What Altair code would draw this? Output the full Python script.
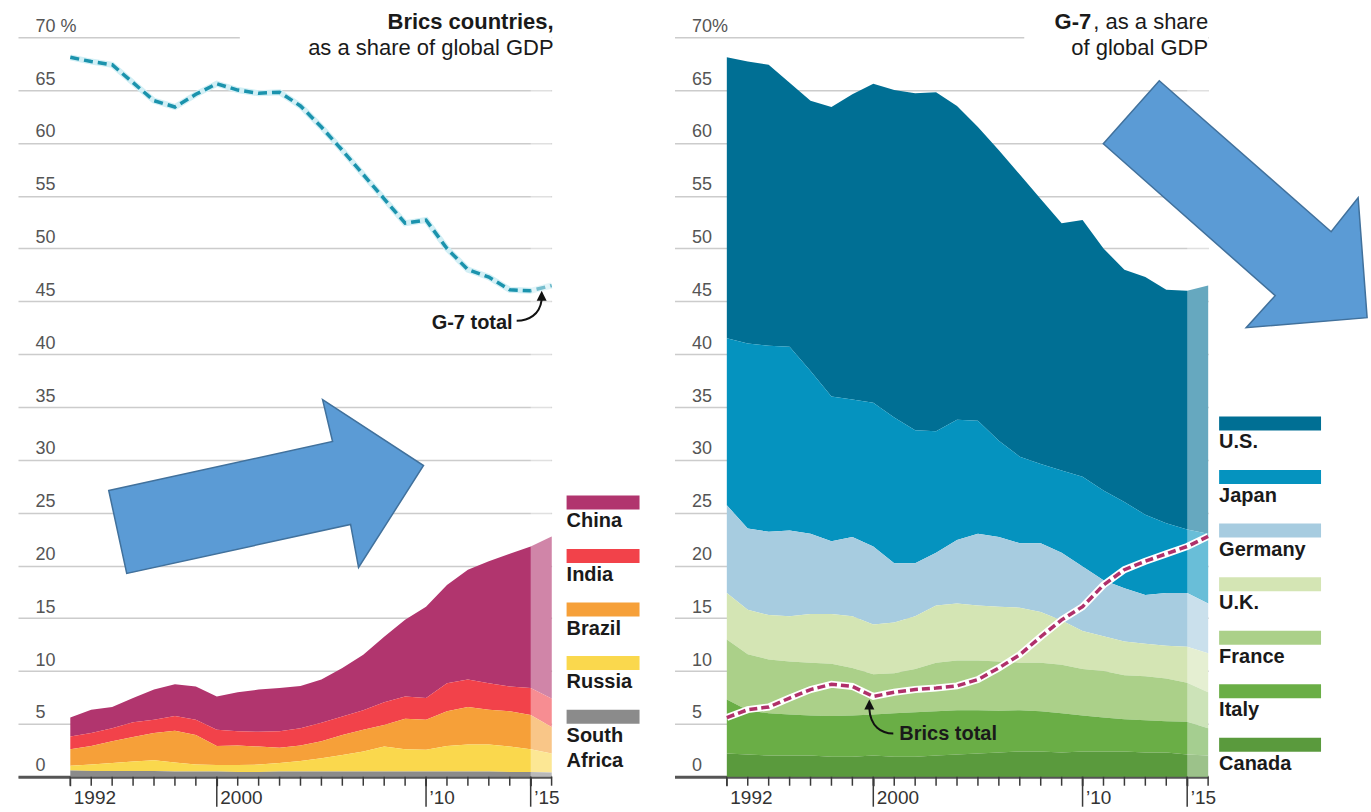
import altair as alt
import pandas as pd

# ---------------- data ----------------
years = list(range(1993, 2017))

brics_names = ["China", "India", "Brazil", "Russia", "South Africa"]
brics_legend_labels = ["China", "India", "Brazil", "Russia", "South\nAfrica"]
brics_colors = ["#b1356e", "#f2424a", "#f6a039", "#fad84d", "#8b8b8b"]

china = [1.8, 2.2, 2.0, 2.3, 2.85, 3.0, 3.15, 3.15, 3.7, 4.0, 4.1, 4.0,
         4.1, 4.6, 5.25, 6.2, 7.25, 8.65, 9.3, 10.4, 11.55, 12.55, 13.4, 15.35]
india = [1.2, 1.25, 1.25, 1.4, 1.25, 1.4, 1.45, 1.55, 1.35, 1.4, 1.55, 1.65,
         1.75, 1.75, 1.85, 2.15, 2.1, 2.05, 2.65, 2.6, 2.5, 2.35, 2.55, 2.7]
brazil = [1.55, 1.75, 2.05, 2.3, 2.6, 3.0, 2.8, 1.8, 1.85, 1.7, 1.45, 1.45,
          1.6, 1.9, 2.05, 2.05, 2.9, 2.85, 3.3, 3.55, 3.3, 3.35, 3.25, 2.5]
russia = [0.45, 0.6, 0.75, 0.9, 1.0, 0.85, 0.65, 0.6, 0.65, 0.7, 0.8, 1.0,
          1.25, 1.55, 1.9, 2.35, 2.1, 2.05, 2.4, 2.55, 2.55, 2.4, 2.15, 1.8]
south_africa = [0.6, 0.55, 0.55, 0.55, 0.55, 0.5, 0.5, 0.5, 0.45, 0.45, 0.5, 0.5,
                0.5, 0.5, 0.5, 0.5, 0.5, 0.5, 0.5, 0.5, 0.5, 0.45, 0.45, 0.4]

g7_names = ["U.S.", "Japan", "Germany", "U.K.", "France", "Italy", "Canada"]
g7_colors = ["#006f94", "#0593bf", "#a7cce0", "#d4e5b4", "#abd089", "#6aae46", "#5a9a3d"]

us = [26.6, 26.7, 26.6, 25.0, 25.6, 27.4, 28.9, 30.2, 31.0, 31.9, 32.1, 29.7,
      27.8, 27.5, 26.7, 25.1, 23.4, 24.3, 22.9, 22.0, 22.5, 22.1, 22.6, 23.5]
japan = [15.8, 17.5, 17.6, 17.4, 15.4, 13.7, 13.0, 13.6, 13.8, 12.6, 11.5, 11.4,
         10.7, 9.1, 8.2, 7.5, 7.8, 8.5, 8.5, 8.15, 7.6, 6.6, 6.0, 6.6]
germany = [8.3, 7.7, 7.9, 8.1, 7.6, 6.9, 7.5, 7.4, 5.6, 5.0, 5.0, 6.0,
           6.8, 6.6, 6.1, 6.5, 6.4, 6.1, 5.3, 5.05, 4.6, 5.0, 5.1, 4.7]
uk = [4.4, 4.2, 4.2, 4.3, 4.6, 4.7, 4.9, 4.7, 4.8, 5.0, 5.4, 5.4,
      5.2, 5.2, 5.2, 4.8, 4.2, 3.6, 3.3, 3.2, 3.1, 3.1, 3.4, 3.7]
france = [5.7, 5.3, 5.1, 5.0, 5.0, 4.95, 4.5, 3.8, 3.8, 4.1, 4.6, 4.7,
          4.7, 4.65, 4.5, 4.6, 4.6, 4.4, 4.4, 4.15, 4.15, 4.05, 3.7, 3.4]
italy = [5.1, 4.2, 4.0, 3.9, 3.8, 3.85, 3.9, 3.9, 4.1, 4.2, 4.2, 4.2,
         4.1, 3.95, 3.9, 3.8, 3.7, 3.4, 3.2, 3.05, 3.05, 2.95, 3.1, 2.6]
canada = [2.2, 2.1, 2.0, 2.0, 2.0, 1.9, 1.9, 2.0, 1.9, 1.9, 2.0, 2.1,
          2.2, 2.3, 2.4, 2.4, 2.3, 2.4, 2.4, 2.4, 2.3, 2.3, 2.1, 2.0]

forecast_start = [2015]
forecast_end = [2016]

y_ticks = list(range(0, 75, 5))
x_label_years = [1993, 2000, 2010, 2015]
x_label_texts = ["1992", "2000", "\u201910", "\u201915"]
major_ticks = [2000, 2010, 2015]

brics_title = ["Brics countries,", "as a share of global GDP"]
g7_title = ["G-7", ", as a share", "of global GDP"]
g7_note, g7_note_year = "G-7 total", 2015
brics_note, brics_note_year = "Brics total", 2000

# ---------------- tables ----------------
def long_df(names, series):
    rows = []
    n = len(names)
    for i, (name, vals) in enumerate(zip(names, series)):
        for yr, v in zip(years, vals):
            rows.append({"year": yr, "country": name, "share": v, "rank": n - 1 - i})
    return pd.DataFrame(rows)

brics_df = long_df(brics_names, [china, india, brazil, russia, south_africa])
g7_df = long_df(g7_names, [us, japan, germany, uk, france, italy, canada])
brics_total = brics_df.groupby("year", as_index=False)["share"].sum()
g7_total = g7_df.groupby("year", as_index=False)["share"].sum()
forecast_df = pd.DataFrame({"start": forecast_start, "end": forecast_end})
major_df = pd.DataFrame({"year": major_ticks})
minor_df = pd.DataFrame({"year": years})

# ---------------- styling ----------------
FONT = "Liberation Sans"
W, H = 534, 740
xs = alt.Scale(domain=[1990.5, 2016], nice=False, zero=False)
ys = alt.Scale(domain=[0, 70], nice=False)

label_expr = " : ".join(f"datum.value == {k} ? '{v}'" for k, v in zip(x_label_years, x_label_texts)) + " : ''"

x_axis = alt.Axis(
    values=x_label_years, labelExpr=label_expr, labelAlign="left", labelBaseline="top",
    labelFlush=False, labelOverlap=False, labelOffset=3, labelPadding=3,
    labelFont=FONT, labelFontSize=19, labelColor="#333333",
    tickSize=9, tickColor="#3a3a3a", tickWidth=1.5,
    domainColor="#555555", domainWidth=3, grid=False, title=None,
)


def y_axis(top_label):
    return alt.Axis(
        values=y_ticks, grid=True, gridColor="#cccccc", gridWidth=1.5,
        domain=False, ticks=False, tickSize=0,
        labelAlign="left", labelBaseline="alphabetic", labelPadding=-17, labelOffset=-6,
        labelFont=FONT, labelFontSize=18, labelColor="#555555",
        labelExpr=f"datum.value == 70 ? '{top_label}' : datum.label", title=None,
    )


one = pd.DataFrame({"a": [0]})


def text_at(txt, x, y, align="right", bold=False, size=22):
    return alt.Chart(one).mark_text(
        text=txt, align=align, baseline="middle", font=FONT, fontSize=size,
        fontWeight="bold" if bold else "normal", color="#1a1a1a",
    ).encode(x=alt.value(x), y=alt.value(y))


def grid_cut(x_from):
    return alt.Chart(pd.DataFrame({"v": [70]})).mark_rule(color="white", strokeWidth=4).encode(
        y=alt.Y("v:Q", scale=ys), x=alt.value(x_from), x2=alt.value(W))


def tick_marks():
    minor = alt.Chart(minor_df).mark_rule(color="#3a3a3a", strokeWidth=1.5).encode(
        x=alt.X("year:Q", scale=xs), y=alt.value(H), y2=alt.value(H + 9))
    major = alt.Chart(major_df).mark_rule(color="#3a3a3a", strokeWidth=1.5).encode(
        x=alt.X("year:Q", scale=xs), y=alt.value(H), y2=alt.value(H + 30))
    return [minor, major]


def overlay():
    return alt.Chart(forecast_df).mark_rect(color="white", opacity=0.4).encode(
        x=alt.X("start:Q", scale=xs), x2="end:Q", y=alt.datum(0), y2=alt.datum(70))


def big_arrow(year, value, path):
    return alt.Chart(pd.DataFrame({"year": [year], "value": [value]})).mark_point(
        shape=path, size=4, filled=True, fill="#5b9bd5", stroke="#41719c",
        strokeWidth=1.5, opacity=1,
    ).encode(x=alt.X("year:Q", scale=xs), y=alt.Y("value:Q", scale=ys))


def pointer(total_df, year, curve, head, note, dx, dy, align):
    base = alt.Chart(total_df).transform_filter(f"datum.year == {year}").encode(
        x=alt.X("year:Q", scale=xs), y=alt.Y("share:Q", scale=ys))
    c = base.mark_point(shape=curve, size=4, filled=False, stroke="#111111",
                        strokeWidth=2, opacity=1)
    h = base.mark_point(shape=head, size=4, filled=True, fill="#111111",
                        strokeWidth=0, opacity=1)
    t = base.mark_text(text=note, align=align, baseline="middle", dx=dx, dy=dy,
                       font=FONT, fontSize=20, fontWeight="bold", color="#1a1a1a")
    return [c, h, t]


# ---------------- left panel: Brics ----------------
area_L = alt.Chart(brics_df).mark_area(interpolate="linear").encode(
    x=alt.X("year:Q", scale=xs, axis=x_axis),
    y=alt.Y("share:Q", stack="zero", scale=ys, axis=y_axis("70 %")),
    color=alt.Color("country:N", scale=alt.Scale(domain=brics_names, range=brics_colors), legend=None),
    order=alt.Order("rank:Q"),
)
g7_line_base = alt.Chart(g7_total).encode(x=alt.X("year:Q", scale=xs), y=alt.Y("share:Q", scale=ys))
g7_halo = g7_line_base.mark_line(color="#d2eff5", strokeWidth=6)
g7_line = g7_line_base.mark_line(color="#1b93ad", strokeWidth=3.5, strokeDash=[9, 5])

left = alt.layer(
    area_L, g7_halo, g7_line, overlay(), grid_cut(222), *tick_marks(),
    text_at(brics_title[0], W + 2, -15, bold=True),
    text_at(brics_title[1], W + 2, 11),
    *pointer(g7_total, g7_note_year, "M-14,30 C-2,30 9,24 11,9", "M6,10 L11,0 L16,10 Z",
             g7_note, -18, 32, "right"),
    big_arrow(2002, 27, "M-150,-1 L74,-50 L64,-92 L165,-26 L100,76 L92,33 L-132,82 Z"),
).properties(width=W, height=H)

# ---------------- right panel: G-7 ----------------
area_R = alt.Chart(g7_df).mark_area(interpolate="linear").encode(
    x=alt.X("year:Q", scale=xs, axis=x_axis),
    y=alt.Y("share:Q", stack="zero", scale=ys, axis=y_axis("70%")),
    color=alt.Color("country:N", scale=alt.Scale(domain=g7_names, range=g7_colors), legend=None),
    order=alt.Order("rank:Q"),
)
br_base = alt.Chart(brics_total).encode(x=alt.X("year:Q", scale=xs), y=alt.Y("share:Q", scale=ys))
br_white = br_base.mark_line(color="white", strokeWidth=7)
br_line = br_base.mark_line(color="#b0306a", strokeWidth=3.5, strokeDash=[8, 4])

right = alt.layer(
    area_R, overlay(), grid_cut(350), *tick_marks(), br_white, br_line,
    text_at(g7_title[0], W - 117, -15, bold=True),
    text_at(g7_title[1], W, -15),
    text_at(g7_title[2], W, 11),
    *pointer(brics_total, brics_note_year, "M20,37 C8,37 -3,30 -4,12", "M-9,13 L-4,3 L1,13 Z",
             brics_note, 26, 38, "left"),
    big_arrow(2014, 55, "M-7,-115 L165,36 L192,2 L201,122 L80,132 L109,100 L-63,-52 Z"),
).properties(width=W, height=H)


# ---------------- legends ----------------
def legend_chart(names, labels, colors, width, bar_x, bar_w, first_center):
    step = 53.6
    r0 = first_center - step / 2
    df = pd.DataFrame({"name": names, "label": labels})
    yenc = alt.Y("name:N", sort=names, axis=None,
                 scale=alt.Scale(type="band", domain=names, range=[r0, r0 + step * len(names)],
                                 paddingInner=0, paddingOuter=0))
    bars = alt.Chart(df).mark_bar(size=14, orient="horizontal").encode(
        y=yenc, x=alt.value(bar_x), x2=alt.value(bar_x + bar_w),
        color=alt.Color("name:N", scale=alt.Scale(domain=names, range=colors), legend=None))
    texts = alt.Chart(df).mark_text(
        align="left", baseline="top", dy=9, font=FONT, fontSize=20, fontWeight="bold",
        color="#1a1a1a", lineBreak="\n", lineHeight=25,
    ).encode(y=yenc, x=alt.value(bar_x), text="label:N")
    return alt.layer(bars, texts).properties(width=width, height=H)


legend_L = legend_chart(brics_names, brics_legend_labels, brics_colors, 123, 15, 73, 465.5)
legend_R = legend_chart(g7_names, g7_names, g7_colors, 150, 11, 102, 386.5)

chart = alt.hconcat(left, legend_L, right, legend_R, spacing=0, bounds="flush").resolve_scale(
    x="independent", y="independent", color="independent"
).properties(
    padding={"left": 18, "top": 11, "right": 0, "bottom": 0}
).configure_view(stroke=None).configure_axisX(labelOverlap=False)

chart.save("out.html", embed_options={"renderer": "svg", "actions": False})
